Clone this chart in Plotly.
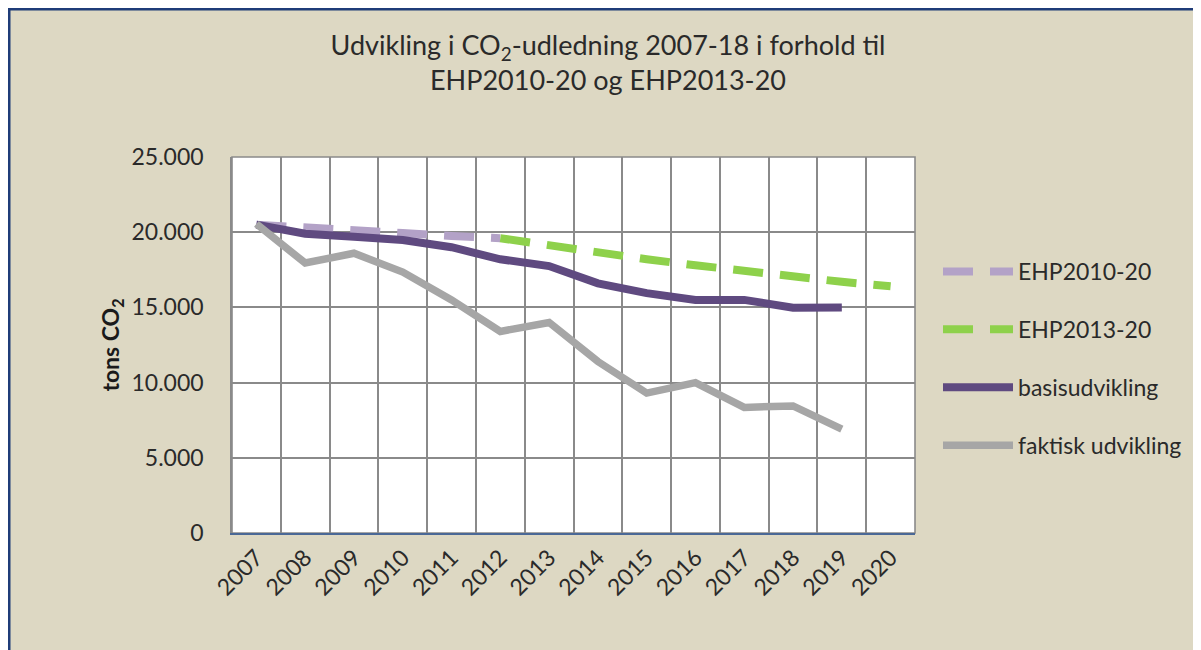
import plotly.graph_objects as go

years = [str(y) for y in range(2007, 2021)]

ehp2010_years = ["2007", "2008", "2009", "2010", "2011", "2012"]
ehp2010 = [20500, 20350, 20150, 19950, 19750, 19600]

ehp2013_years = ["2012", "2013", "2014", "2015", "2016", "2017", "2018", "2019", "2020"]
ehp2013 = [19600, 19100, 18600, 18200, 17800, 17400, 17100, 16700, 16400]

basis_years = [str(y) for y in range(2007, 2020)]
basis = [20500, 19900, 19700, 19480, 19000, 18200, 17750, 16600, 15950, 15500, 15500, 14980, 15000]

faktisk_years = [str(y) for y in range(2007, 2020)]
faktisk = [20550, 17950, 18600, 17350, 15500, 13400, 14000, 11400, 9300, 10000, 8350, 8450, 6900]

FONT = "Lato"
BEIGE = "#DDD8C3"
GRID = "#8A8A8A"
TXT = "#2a2a2a"

fig = go.Figure()
fig.add_trace(go.Scatter(x=ehp2010_years, y=ehp2010, name="EHP2010-20", mode="lines",
                         line=dict(color="#B3A2C7", width=8, dash="30px,17px"), legendgroup="a"))
fig.add_trace(go.Scatter(x=ehp2013_years, y=ehp2013, name="EHP2013-20", mode="lines",
                         line=dict(color="#8ED14B", width=8, dash="30px,17px"), legendgroup="b"))
fig.add_trace(go.Scatter(x=basis_years, y=basis, name="basisudvikling", mode="lines",
                         line=dict(color="#5F4A80", width=8), legendgroup="c"))
fig.add_trace(go.Scatter(x=faktisk_years, y=faktisk, name="faktisk udvikling", mode="lines",
                         line=dict(color="#A6A6A6", width=7.5), legendgroup="d"))

# figure is placed at page offset (8, 8)
W, H = 1201, 650
L, T = 224, 149
R = W - 907
B = H - 525
pw, ph = W - L - R, H - T - B

def fx(px):
    return (px - L) / pw

def fy(py):
    return (H - B - py) / ph

shapes = [
    dict(type="rect", xref="paper", yref="paper", layer="below",
         x0=fx(1), x1=fx(1400), y0=fy(800), y1=fy(1),
         fillcolor=BEIGE, line=dict(color="#1F3C78", width=3)),
    dict(type="rect", xref="paper", yref="paper", layer="below",
         x0=0, x1=1, y0=0, y1=1, fillcolor="white", line=dict(color=GRID, width=1.6)),
]

fig.update_layout(
    width=W, height=H,
    margin=dict(l=L, r=R, t=T, b=B, pad=0),
    paper_bgcolor="white",
    plot_bgcolor="white",
    separators=",.",
    font=dict(family=FONT, color=TXT),
    title=dict(
        text="Udvikling i CO<sub>2</sub>-udledning 2007-18 i forhold til<br>EHP2010-20 og EHP2013-20",
        x=600 / W, xanchor="center", xref="container",
        y=1 - 47 / H, yanchor="top", yref="container",
        font=dict(family=FONT, size=27, color=TXT),
    ),
    shapes=shapes,
    showlegend=True,
    legend=dict(
        x=fx(930), xanchor="left", y=fy(242), yanchor="top",
        bgcolor="rgba(0,0,0,0)", font=dict(family=FONT, size=23, color=TXT),
        tracegroupgap=25, itemwidth=70, traceorder="grouped",
    ),
    xaxis=dict(
        type="category", categoryorder="array", categoryarray=years,
        range=[-0.5, len(years) - 0.5],
        tickson="boundaries", ticks="outside", ticklen=7, tickcolor="rgba(0,0,0,0)",
        showgrid=True, gridcolor=GRID, gridwidth=1.6,
        tickangle=-45, tickfont=dict(family=FONT, size=23, color=TXT),
        showline=True, linecolor="#4A6896", linewidth=2,
        fixedrange=True,
    ),
    yaxis=dict(
        range=[0, 25000], dtick=5000, tickformat=",d",
        showgrid=True, gridcolor=GRID, gridwidth=1.6,
        tickfont=dict(family=FONT, size=23, color=TXT),
        ticklabelstandoff=22,
        showline=True, linecolor=GRID, linewidth=1.6, zeroline=False,
        title=dict(text="<b>tons CO<sub>2</sub></b>", font=dict(family=FONT, size=23, color="#1a1a1a"), standoff=5),
        fixedrange=True,
    ),
)

fig.write_html("out.html")
